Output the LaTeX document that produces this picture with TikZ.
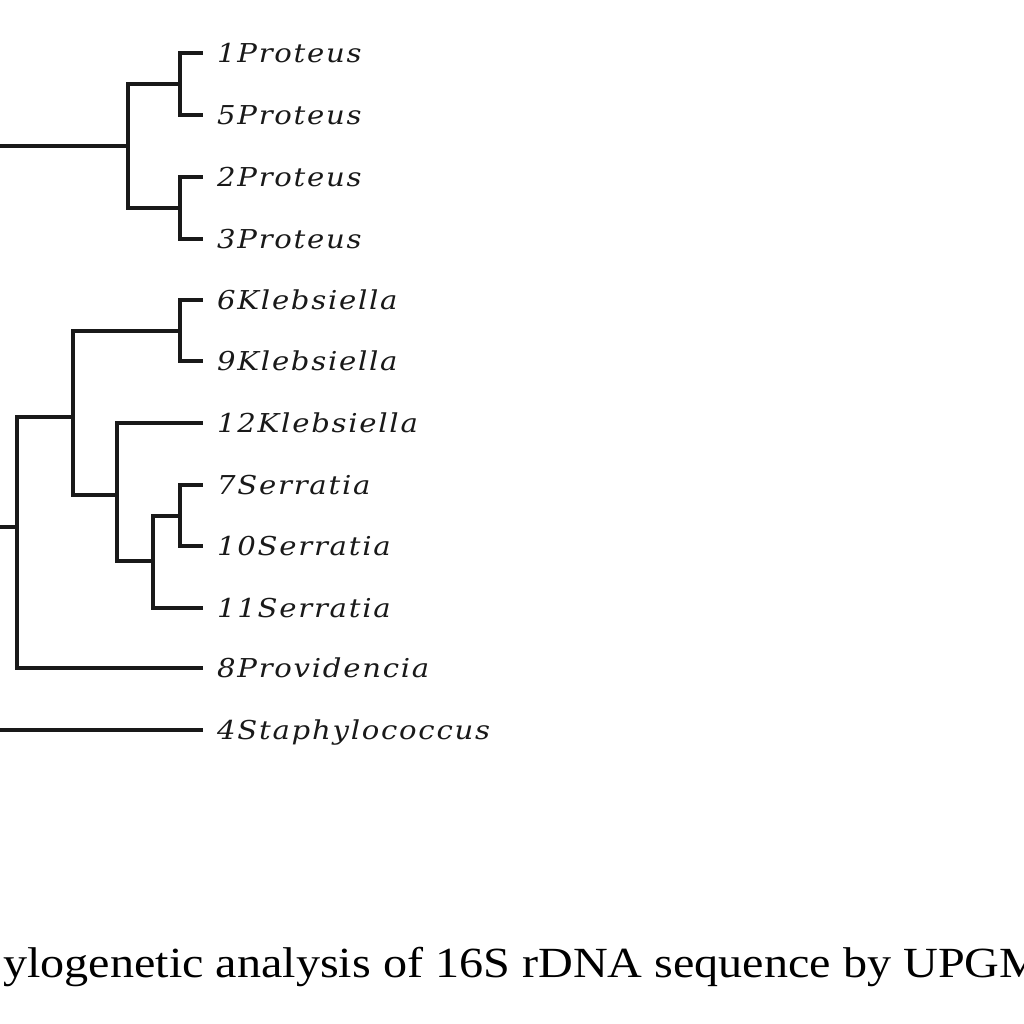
\documentclass[tikz,border=0pt]{standalone}
\usepackage{fontspec}
\setmainfont{Liberation Serif}
\newfontfamily\leaffont{DejaVu Serif}[LetterSpace=6]
\usepackage{tikz}

\tikzset{
  branch/.style={line width=3.3pt, black!90},
  leaf/.style={anchor=west, inner xsep=14pt, inner ysep=0pt,
    font=\leaffont\itshape\fontsize{26}{26}\selectfont,
    text height=19pt, text depth=0pt, text=black!90}
}
\newcommand{\leaflab}[1]{\scalebox{1.12}[1]{#1}}

\begin{document}
\begin{tikzpicture}[x=1pt, y=-1pt]
            \useasboundingbox (0,0) rectangle (1024,1024);
            \clip (0,0) rectangle (1024,1024);

            % Leaves
            \foreach \name/\lab/\y in {l1/1Proteus/53, l5/5Proteus/115, l2/2Proteus/177, l3/3Proteus/239,
                                       l6/6Klebsiella/300, l9/9Klebsiella/361, l12/12Klebsiella/423,
                                       l7/7Serratia/485, l10/10Serratia/546, l11/11Serratia/608,
                                       l8/8Providencia/668, l4/4Staphylococcus/730} {
                \node[leaf] (\name) at (203,\y) {\leaflab{\lab}};
            }

            % Inner nodes
            \coordinate (n15) at (180,84);
            \coordinate (n23) at (180,208);
            \coordinate (nP) at (128,146);
            \coordinate (n69) at (180,331);
            \coordinate (n710) at (180,516);
            \coordinate (nS) at (153,561);
            \coordinate (nK12) at (117,495);
            \coordinate (nK) at (73,417);
            \coordinate (nE) at (17,527);
            \coordinate (rP) at (-10,146);
            \coordinate (rE) at (-10,527);
            \coordinate (r4) at (-10,730);

            % Proteus
            \draw[branch] (n15) |- (l1.west);
            \draw[branch] (n15) |- (l5.west);
            \draw[branch] (n23) |- (l2.west);
            \draw[branch] (n23) |- (l3.west);
            \draw[branch] (nP) |- (n15);
            \draw[branch] (nP) |- (n23);
            \draw[branch] (rP) -- (nP);

            % Klebsiella / Serratia / Providencia
            \draw[branch] (n69) |- (l6.west);
            \draw[branch] (n69) |- (l9.west);
            \draw[branch] (n710) |- (l7.west);
            \draw[branch] (n710) |- (l10.west);
            \draw[branch] (nS) |- (n710);
            \draw[branch] (nS) |- (l11.west);
            \draw[branch] (nK12) |- (l12.west);
            \draw[branch] (nK12) |- (nS);
            \draw[branch] (nK) |- (n69);
            \draw[branch] (nK) |- (nK12);
            \draw[branch] (nE) |- (nK);
            \draw[branch] (nE) |- (l8.west);
            \draw[branch] (rE) -- (nE);

            % Outgroup
            \draw[branch] (r4) -- (l4.west);

            % Caption
            \node[anchor=base west, inner sep=0pt] (caption) at (3,977)
                {\scalebox{1.12}[1]{\fontsize{43}{43}\selectfont ylogenetic analysis of 16S rDNA sequence by UPGM}};
        \end{tikzpicture}
\end{document}
